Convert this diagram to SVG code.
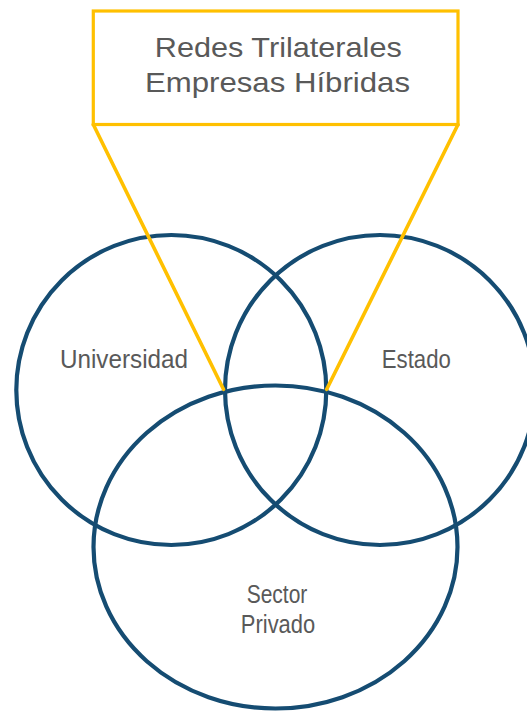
<svg xmlns="http://www.w3.org/2000/svg" width="527" height="711" viewBox="0 0 527 711">
<style>
.set{fill:none;stroke:#154C72;stroke-width:4.2}
.lbl{font-family:"Liberation Sans",Arial,sans-serif;fill:#595959;text-anchor:middle}
.box{fill:#fff;stroke:#FFC000;stroke-width:3.2}
.con{stroke:#FFC000;stroke-width:3.6;fill:none;stroke-linecap:round}
</style>
<rect width="527" height="711" fill="#fff"/>
<g id="universidad">
<circle class="set" cx="171.3" cy="390" r="155"/>
<text class="lbl" x="124" y="367.5" font-size="25" textLength="128" lengthAdjust="spacingAndGlyphs">Universidad</text>
</g>
<g id="estado">
<circle class="set" cx="380" cy="390" r="155"/>
<text class="lbl" x="416.3" y="367.5" font-size="25" textLength="69" lengthAdjust="spacingAndGlyphs">Estado</text>
</g>
<g id="sector-privado">
<ellipse class="set" cx="275.5" cy="547" rx="182" ry="161.5"/>
<text class="lbl" x="277" y="603.3" font-size="25" textLength="60.6" lengthAdjust="spacingAndGlyphs">Sector</text>
<text class="lbl" x="278" y="632.7" font-size="25" textLength="74.3" lengthAdjust="spacingAndGlyphs">Privado</text>
</g>
<g id="redes-trilaterales">
<rect class="box" x="93.3" y="11" width="364.7" height="113.5"/>
<text class="lbl" x="278.3" y="56.5" font-size="28.5" textLength="247" lengthAdjust="spacingAndGlyphs">Redes Trilaterales</text>
<text class="lbl" x="277.5" y="92" font-size="28.5" textLength="265" lengthAdjust="spacingAndGlyphs">Empresas Híbridas</text>
</g>
<g id="connectors">
<line class="con" x1="93.3" y1="124.5" x2="223.5" y2="389.3"/>
<line class="con" x1="458" y1="124.5" x2="326.7" y2="389.3"/>
</g>
</svg>
